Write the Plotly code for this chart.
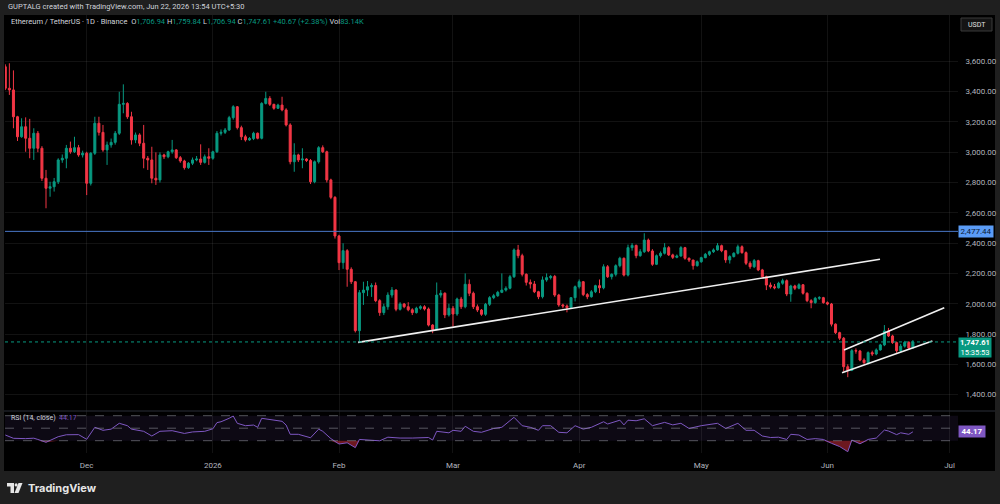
import pandas as pd
import plotly.graph_objects as go

# ---------------- data ----------------
start_date = "2025-11-11"

opens = [3564, 3422, 3411, 3234, 3102, 3168, 3092, 3026, 3125, 3026,
         2828, 2762, 2772, 2805, 2949, 2960, 3026, 3003, 3030, 2982,
         2993, 2795, 2993, 3191, 3131, 3015, 3048, 3065, 3125, 3316,
         3322, 3234, 3081, 3114, 3059, 2960, 2949, 2828, 2817, 2982,
         2970, 3003, 3015, 2964, 2942, 2898, 2927, 2949, 2955, 2933,
         2970, 2960, 3003, 3125, 3131, 3147, 3228, 3300, 3162, 3102,
         3081, 3090, 3125, 3092, 3322, 3355, 3316, 3290, 3311, 3279,
         3180, 2937, 2982, 2949, 2955, 2945, 2805, 2937, 3030, 3003,
         2817, 2702, 2447, 2271, 2350, 2227, 2145, 1822, 2073, 2090,
         2112, 2120, 2020, 1941, 1980, 2057, 2090, 1963, 1998, 1980,
         1960, 1941, 1970, 1980, 1965, 1859, 1830, 2057, 2069, 1926,
         1970, 1932, 2031, 1980, 2128, 2069, 1980, 1958, 1930, 1996,
         2040, 2053, 2075, 2090, 2102, 2178, 2355, 2317, 2194, 2141,
         2130, 2079, 2046, 2157, 2172, 2180, 2057, 1992, 1985, 1974,
         2040, 2112, 2145, 2060, 2046, 2079, 2119, 2105, 2244, 2178,
         2194, 2251, 2300, 2189, 2370, 2385, 2317, 2343, 2420, 2348,
         2260, 2317, 2333, 2370, 2322, 2306, 2315, 2370, 2300, 2288,
         2251, 2277, 2304, 2326, 2343, 2355, 2383, 2350, 2289, 2311,
         2333, 2376, 2337, 2267, 2244, 2284, 2223, 2178, 2123, 2112,
         2105, 2135, 2152, 2064, 2117, 2102, 2125, 2069, 2020, 2007,
         2036, 2040, 2007, 1998, 1865, 1809, 1772, 1584, 1560, 1690,
         1688, 1628, 1611, 1677, 1668, 1695, 1728, 1820, 1787, 1743,
         1690, 1720, 1745, 1706.94]

highs = [3580, 3587, 3540, 3240, 3224, 3230, 3220, 3158, 3140, 3040,
         2883, 2805, 2830, 2960, 2985, 3048, 3070, 3102, 3048, 3010,
         3003, 3000, 3234, 3234, 3180, 3070, 3090, 3140, 3399, 3448,
         3330, 3267, 3130, 3125, 3180, 2975, 3036, 2999, 2999, 2990,
         3010, 3081, 3020, 2975, 2950, 2935, 2965, 2975, 3052, 2985,
         3026, 3010, 3140, 3150, 3160, 3240, 3310, 3305, 3175, 3115,
         3100, 3135, 3130, 3330, 3399, 3370, 3320, 3320, 3366, 3290,
         3191, 3059, 2990, 3026, 2960, 2955, 2945, 3040, 3045, 3010,
         2825, 2710, 2455, 2399, 2360, 2240, 2150, 2090, 2145, 2150,
         2135, 2140, 2030, 2000, 2075, 2110, 2095, 2010, 2005, 2010,
         1970, 1980, 1990, 1990, 1975, 1865, 2140, 2090, 2075, 2000,
         1985, 2040, 2045, 2200, 2160, 2080, 1995, 1965, 2005, 2050,
         2065, 2085, 2200, 2115, 2190, 2365, 2388, 2330, 2200, 2160,
         2150, 2085, 2180, 2200, 2190, 2190, 2065, 2000, 1995, 2035,
         2120, 2160, 2150, 2070, 2090, 2125, 2160, 2260, 2255, 2200,
         2260, 2310, 2305, 2390, 2400, 2390, 2360, 2465, 2430, 2360,
         2325, 2345, 2400, 2380, 2330, 2325, 2380, 2375, 2305, 2290,
         2285, 2310, 2335, 2350, 2365, 2400, 2390, 2355, 2320, 2340,
         2390, 2385, 2345, 2280, 2295, 2290, 2230, 2185, 2140, 2130,
         2145, 2165, 2160, 2125, 2125, 2135, 2130, 2075, 2030, 2045,
         2050, 2045, 2015, 2005, 1870, 1815, 1780, 1600, 1700, 1705,
         1695, 1640, 1685, 1690, 1705, 1735, 1859, 1840, 1795, 1750,
         1735, 1755, 1752, 1759.84]

lows = [3410, 3378, 3158, 3074, 3095, 3003, 2960, 2949, 3000, 2810,
        2630, 2706, 2740, 2790, 2930, 2894, 2990, 2995, 2970, 2965,
        2717, 2780, 2982, 3110, 3003, 2916, 3030, 3050, 3114, 3257,
        3220, 3050, 3060, 3040, 2894, 2883, 2795, 2784, 2800, 2955,
        2960, 2990, 2955, 2930, 2885, 2890, 2915, 2940, 2916, 2925,
        2916, 2950, 2995, 3110, 3120, 3140, 3215, 3150, 3080, 3070,
        3075, 3080, 3085, 3085, 3315, 3305, 3280, 3285, 3270, 3170,
        2920, 2871, 2935, 2894, 2935, 2790, 2795, 2925, 2995, 2800,
        2690, 2430, 2222, 2230, 2112, 2130, 1810, 1745, 1992, 2050,
        2045, 2010, 1920, 1925, 1960, 2040, 1950, 1955, 1970, 1950,
        1925, 1935, 1960, 1955, 1850, 1805, 1825, 2040, 1905, 1915,
        1848, 1920, 1965, 1970, 2050, 1965, 1945, 1920, 1920, 1985,
        2030, 2045, 2070, 2080, 2095, 2170, 2300, 2180, 2120, 2100,
        2070, 2030, 2035, 2145, 2160, 2045, 1980, 1970, 1943, 1965,
        2015, 2100, 2050, 2030, 2040, 2070, 2070, 2095, 2170, 2160,
        2180, 2240, 2180, 2180, 2350, 2300, 2310, 2335, 2340, 2250,
        2255, 2305, 2325, 2315, 2295, 2300, 2310, 2290, 2275, 2225,
        2245, 2270, 2300, 2315, 2335, 2350, 2340, 2270, 2265, 2305,
        2325, 2330, 2255, 2230, 2235, 2215, 2165, 2090, 2100, 2095,
        2100, 2125, 2050, 2013, 2090, 2095, 2060, 2010, 1970, 2000,
        2025, 2000, 1990, 1850, 1800, 1760, 1551, 1515, 1555, 1670,
        1620, 1600, 1600, 1655, 1660, 1690, 1720, 1780, 1735, 1675,
        1680, 1710, 1700, 1706.94]

closes = [3422, 3411, 3234, 3102, 3168, 3092, 3026, 3125, 3026, 2828,
          2762, 2772, 2805, 2949, 2960, 3026, 3003, 3030, 2982, 2993,
          2795, 2993, 3191, 3131, 3015, 3048, 3065, 3125, 3316, 3322,
          3234, 3081, 3114, 3059, 2960, 2949, 2828, 2817, 2982, 2970,
          3003, 3015, 2964, 2942, 2898, 2927, 2949, 2955, 2933, 2970,
          2960, 3003, 3125, 3131, 3147, 3228, 3300, 3162, 3102, 3081,
          3090, 3125, 3092, 3322, 3355, 3316, 3290, 3311, 3279, 3180,
          2937, 2982, 2949, 2955, 2945, 2805, 2937, 3030, 3003, 2817,
          2702, 2447, 2271, 2350, 2227, 2145, 1822, 2073, 2090, 2112,
          2120, 2020, 1941, 1980, 2057, 2090, 1963, 1998, 1980, 1960,
          1941, 1970, 1980, 1965, 1859, 1830, 2057, 2069, 1926, 1970,
          1932, 2031, 1980, 2128, 2069, 1980, 1958, 1930, 1996, 2040,
          2053, 2075, 2090, 2102, 2178, 2355, 2317, 2194, 2141, 2130,
          2079, 2046, 2157, 2172, 2180, 2057, 1992, 1985, 1974, 2040,
          2112, 2145, 2060, 2046, 2079, 2119, 2105, 2244, 2178, 2194,
          2251, 2300, 2189, 2370, 2385, 2317, 2343, 2420, 2348, 2260,
          2317, 2333, 2370, 2322, 2306, 2315, 2370, 2300, 2288, 2251,
          2277, 2304, 2326, 2343, 2355, 2383, 2350, 2289, 2311, 2333,
          2376, 2337, 2267, 2244, 2284, 2223, 2178, 2123, 2112, 2105,
          2135, 2152, 2064, 2117, 2102, 2125, 2069, 2020, 2007, 2036,
          2040, 2007, 1998, 1865, 1809, 1772, 1584, 1560, 1690, 1688,
          1628, 1611, 1677, 1668, 1695, 1728, 1820, 1787, 1743, 1690,
          1720, 1745, 1706.94, 1747.61]

dates = pd.date_range(start_date, periods=len(closes), freq="D")

# RSI(14): day offset from start_date -> value
rsi_day_index = [0, 2, 5, 7, 8, 10, 13, 15, 18, 20, 22, 24, 26, 28, 30, 31, 34, 36, 38,
                 41, 44, 46, 49, 51, 52, 53, 55, 56, 57, 59, 61, 62, 63, 66, 68, 69, 70,
                 72, 75, 77, 78, 80, 82, 84, 86, 87, 90, 92, 94, 97, 100, 104, 105, 106,
                 109, 110, 112, 113, 115, 117, 120, 122, 125, 127, 129, 131, 132, 134,
                 136, 138, 140, 142, 144, 147, 148, 151, 152, 153, 155, 157, 159, 162,
                 164, 166, 168, 171, 175, 177, 180, 182, 184, 186, 188, 190, 192, 193,
                 195, 197, 199, 201, 203, 205, 207, 208, 210, 212, 214, 216, 217, 219,
                 220, 222, 223]
rsi_values = [39.1, 33.8, 33.3, 34.0, 32.0, 27.4, 36.4, 39.5, 39.7, 32.2, 51.4, 46.6, 48.5,
              57.8, 54.0, 48.5, 45.0, 37.5, 45.0, 46.0, 41.6, 44.0, 45.0, 49.0, 58.9, 60.3,
              65.8, 69.5, 57.8, 54.0, 55.0, 51.4, 65.8, 63.4, 61.0, 55.0, 40.2, 40.2, 34.7,
              48.5, 45.0, 33.3, 24.7, 26.6, 18.9, 32.0, 31.0, 29.8, 35.6, 34.2, 34.2, 35.1,
              31.0, 45.0, 42.6, 46.6, 45.0, 53.1, 45.0, 43.4, 49.6, 51.4, 67.4, 54.0, 51.4,
              46.6, 54.0, 54.0, 43.4, 42.6, 54.0, 48.5, 51.4, 60.3, 56.7, 62.8, 55.3, 62.8,
              61.9, 65.0, 54.0, 59.3, 55.3, 57.8, 49.6, 54.0, 57.8, 49.6, 57.8, 46.6, 46.6,
              37.5, 35.1, 35.6, 32.0, 40.2, 39.1, 32.0, 33.3, 32.0, 25.8, 20.6, 12.4, 31.0,
              25.0, 32.0, 34.2, 47.0, 45.5, 39.7, 42.6, 40.2, 44.17]
rsi_dates = [dates[0] + pd.Timedelta(days=d) for d in rsi_day_index]
rsi_levels = [70, 50, 30]

hline_level = 2477.44
volume_label = "83.14K"
countdown_label = "15:35:53"

support_line_dates = ["2026-02-05 17:00", "2026-06-13 22:00"]
support_line_prices = [1745, 2293]
channel_upper_dates = ["2026-06-05 02:00", "2026-06-29 17:00"]
channel_upper_prices = [1694, 1974]
channel_lower_dates = ["2026-06-04 14:00", "2026-06-26 19:00"]
channel_lower_prices = [1545, 1754]

price_ticks = [1400, 1600, 1800, 2000, 2200, 2400, 2600, 2800, 3000, 3200, 3400, 3600]
month_ticks = ["2025-12-01", "2026-01-01", "2026-02-01", "2026-03-01",
               "2026-04-01", "2026-05-01", "2026-06-01", "2026-07-01"]
month_labels = ["Dec", "2026", "Feb", "Mar", "Apr", "May", "Jun", "Jul"]

# ---------------- styling / layout ----------------
W, H = 1000, 504
UP, DOWN = "#089981", "#f23645"
TXT = "#d1d4dc"
AX = "#b2b5be"
FRAME = "#1f1f1f"
RSI_C = "#7e57c2"
FONT = "Roboto"


def px(x):
    return x / W


def py(y):
    return 1 - y / H


plot_l, plot_r = px(5), px(958)
main_dom = [py(411), py(15)]
rsi_dom = [py(453), py(411)]

fig = go.Figure()

fig.add_trace(go.Candlestick(
    x=dates, open=opens, high=highs, low=lows, close=closes,
    increasing=dict(line=dict(color=UP, width=1), fillcolor=UP),
    decreasing=dict(line=dict(color=DOWN, width=1), fillcolor=DOWN),
    whiskerwidth=0, xaxis="x", yaxis="y", hoverinfo="skip", name="ETHUSDT"))

# drawings
for dd, pp in [(support_line_dates, support_line_prices),
               (channel_upper_dates, channel_upper_prices),
               (channel_lower_dates, channel_lower_prices)]:
    fig.add_trace(go.Scatter(x=dd, y=pp, mode="lines", line=dict(color="#f0f0f0", width=1.6),
                             xaxis="x", yaxis="y", hoverinfo="skip"))

# RSI pane
rsi_clip = [min(v, 30) for v in rsi_values]
fig.add_trace(go.Scatter(x=rsi_dates, y=[30] * len(rsi_dates), mode="lines",
                         line=dict(width=0, color="rgba(0,0,0,0)"), xaxis="x2", yaxis="y2",
                         hoverinfo="skip"))
fig.add_trace(go.Scatter(x=rsi_dates, y=rsi_clip, mode="lines", fill="tonexty",
                         fillcolor="rgba(242,54,69,0.45)", line=dict(width=0, color="rgba(0,0,0,0)"),
                         xaxis="x2", yaxis="y2", hoverinfo="skip"))
fig.add_trace(go.Scatter(x=rsi_dates, y=rsi_values, mode="lines",
                         line=dict(color=RSI_C, width=1), xaxis="x2", yaxis="y2",
                         hoverinfo="skip"))

x_range = ["2025-11-10 22:14", "2026-07-03 02:00"]
grid = "rgba(255,255,255,0.07)"

fig.update_layout(
    width=W, height=H, margin=dict(l=0, r=0, t=0, b=0),
    paper_bgcolor="#000000", plot_bgcolor="#000000",
    showlegend=False, font=dict(family=FONT, color=TXT, size=8),
    xaxis=dict(domain=[plot_l, plot_r], range=x_range, anchor="y", type="date",
               rangeslider=dict(visible=False), showticklabels=False,
               tickvals=month_ticks, showgrid=True, gridcolor=grid, gridwidth=1,
               zeroline=False, showline=False, ticks=""),
    xaxis2=dict(domain=[plot_l, plot_r], range=x_range, anchor="y2", type="date",
                matches="x", tickvals=month_ticks, ticktext=month_labels,
                showgrid=True, gridcolor=grid, gridwidth=1, zeroline=False,
                showline=False, ticks="outside", ticklen=4, tickcolor="rgba(0,0,0,0)",
                tickfont=dict(size=8, color=AX, family=FONT)),
    yaxis=dict(domain=main_dom, range=[1291.8, 3905.6], side="right", anchor="x",
               tickvals=price_ticks, tickformat=",.2f", showgrid=True, gridcolor=grid,
               zeroline=False, showline=False, ticks="outside", ticklen=5,
               tickcolor="rgba(0,0,0,0)", tickfont=dict(size=8, color=AX, family=FONT)),
    yaxis2=dict(domain=rsi_dom, range=[10.3, 77.5], side="right", anchor="x2",
                showgrid=False, zeroline=False, showticklabels=False, showline=False),
)

shapes = []
# frame (gray border around black chart area)
shapes += [
    dict(type="rect", xref="paper", yref="paper", x0=0, x1=1, y0=py(15), y1=1,
         fillcolor=FRAME, line=dict(width=0), layer="below"),
    dict(type="rect", xref="paper", yref="paper", x0=0, x1=1, y0=0, y1=py(471),
         fillcolor=FRAME, line=dict(width=0), layer="below"),
    dict(type="rect", xref="paper", yref="paper", x0=0, x1=px(4), y0=0, y1=1,
         fillcolor=FRAME, line=dict(width=0), layer="below"),
    dict(type="rect", xref="paper", yref="paper", x0=px(995), x1=1, y0=0, y1=1,
         fillcolor=FRAME, line=dict(width=0), layer="below"),
]
# pane separator
shapes.append(dict(type="line", xref="paper", yref="paper", x0=px(4), x1=px(995),
                   y0=py(411), y1=py(411), line=dict(color="#2a2e39", width=1)))
# horizontal level line
shapes.append(dict(type="line", xref="paper", yref="y", x0=plot_l, x1=plot_r,
                   y0=hline_level, y1=hline_level, line=dict(color="#4a78c8", width=1)))
# last price dotted line
shapes.append(dict(type="line", xref="paper", yref="y", x0=plot_l, x1=plot_r,
                   y0=closes[-1], y1=closes[-1], line=dict(color=UP, width=1, dash="dot")))
# RSI band and levels
shapes.append(dict(type="rect", xref="paper", yref="y2", x0=plot_l, x1=plot_r,
                   y0=30, y1=70, fillcolor="rgba(126,87,194,0.10)", line=dict(width=0),
                   layer="below"))
for lv in rsi_levels:
    shapes.append(dict(type="line", xref="paper", yref="y2", x0=plot_l, x1=plot_r,
                       y0=lv, y1=lv, line=dict(color="rgba(150,152,160,0.55)", width=1,
                                               dash="dash")))
# USDT box
shapes.append(dict(type="rect", xref="paper", yref="paper", x0=px(961), x1=px(992),
                   y0=py(31), y1=py(18), fillcolor="#141414",
                   line=dict(color="#3a3a3a", width=1)))
# TradingView logo (approximation)
logo = "#e6e6e6"
shapes += [
    dict(type="rect", xref="paper", yref="paper", x0=px(7), x1=px(14), y0=py(486.5),
         y1=py(483), fillcolor=logo, line=dict(width=0)),
    dict(type="rect", xref="paper", yref="paper", x0=px(10.5), x1=px(14), y0=py(493),
         y1=py(483), fillcolor=logo, line=dict(width=0)),
    dict(type="circle", xref="paper", yref="paper", x0=px(14.6), x1=px(17.6),
         y0=py(486.5), y1=py(483.3), fillcolor=logo, line=dict(width=0)),
    dict(type="path", xref="paper", yref="paper",
         path=f"M {px(18.5)},{py(483)} L {px(22.5)},{py(483)} L {px(18.5)},{py(493)} "
              f"L {px(14.5)},{py(493)} Z", fillcolor=logo, line=dict(width=0)),
]
fig.update_layout(shapes=shapes)

o, h, l, c = opens[-1], highs[-1], lows[-1], closes[-1]
chg = c - o
pct = chg / o * 100


def g(s):
    return f"<span style='color:{UP}'>{s}</span>"


legend = (f"Ethereum / TetherUS · 1D · Binance  O{g(f'{o:,.2f}')} H{g(f'{h:,.2f}')} "
          f"L{g(f'{l:,.2f}')} C{g(f'{c:,.2f}')} {g(f'{chg:+.2f} ({pct:+.2f}%)')} "
          f"Vol{g(volume_label)}")

ann = [
    dict(text="GUPTALG created with TradingView.com, Jun 22, 2026 13:54 UTC+5:30",
         x=px(6), y=py(7), xanchor="left", yanchor="middle",
         font=dict(size=7.5, color=TXT)),
    dict(text=legend, x=px(9), y=py(22), xanchor="left", yanchor="middle",
         font=dict(size=7.5, color=TXT)),
    dict(text=f"RSI (14, close)  <span style='color:{RSI_C}'>{rsi_values[-1]:.2f}</span>",
         x=px(9), y=py(418), xanchor="left", yanchor="middle",
         font=dict(size=7, color=TXT)),
    dict(text="USDT", x=px(976.5), y=py(24.5), xanchor="center", yanchor="middle",
         font=dict(size=7, color="#e0e0e0")),
    dict(text="<b>TradingView</b>", x=px(26), y=py(488), xanchor="left", yanchor="middle",
         font=dict(size=11, color="#e6e6e6", family="Inter")),
]
for a in ann:
    a.update(xref="paper", yref="paper", showarrow=False)

# axis value labels
ann.append(dict(text=f"{hline_level:,.2f}", xref="paper", yref="y", x=px(958), y=hline_level,
                xanchor="left", yanchor="middle", showarrow=False, bgcolor="#5b9cf6",
                font=dict(size=8, color="#0b1a33"), width=32, borderpad=1))
ann.append(dict(text=f"<b>{c:,.2f}</b><br>{countdown_label}", xref="paper", yref="y",
                x=px(958), y=c, xanchor="left", yanchor="middle", yshift=-6, showarrow=False,
                bgcolor=UP, font=dict(size=7.5, color="#ffffff"), width=32, borderpad=0))
ann.append(dict(text=f"<b>{rsi_values[-1]:.2f}</b>", xref="paper", yref="y2", x=px(958),
                y=rsi_values[-1], xanchor="left", yanchor="middle", showarrow=False,
                bgcolor=RSI_C, font=dict(size=8, color="#ffffff"), width=24, borderpad=1))
fig.update_layout(annotations=ann)

fig.write_html("out.html", config={"displayModeBar": False},
               post_script="document.body.style.margin='0';document.body.style.background='#1f1f1f';")
